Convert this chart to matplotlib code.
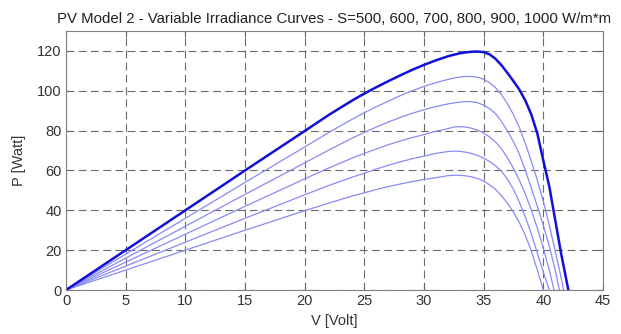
# Curvas P-V de un modulo FV para distintas irradiancias
import matplotlib.pyplot as plt

# datos (V en voltios, P en vatios)
v_base = [0, 5, 10, 15, 20, 22, 24, 25, 26, 27, 28, 29, 30, 31, 32,
          32.5, 33, 33.5, 34, 34.5, 35, 35.5, 36, 36.5, 37,
          37.5, 38, 38.5, 39, 39.5, 40, 40.5, 41, 41.5, 42]

v_500 = v_base[:30] + [40]
p_500 = [0, 10, 20, 30, 39.8, 43.6, 47.2, 48.8, 50.4, 51.9, 53.2, 54.4, 55.5, 56.4, 57.4,
         57.6, 57.6, 57.3, 56.8, 55.9, 54.7, 52.8, 50.5, 47.3, 43.5,
         39, 33.8, 27.3, 19.5, 10, 0]

v_600 = v_base[:31] + [40.5]
p_600 = [0, 12, 24, 36, 47.8, 52.4, 56.7, 58.6, 60.7, 62.6, 64.3, 65.9, 67.2, 68.6, 69.5,
         69.7, 69.6, 69.2, 68.5, 67.5, 66.2, 64.5, 62.3, 59.6, 55.5,
         50.5, 44, 36.5, 28, 18.5, 9, 0]

v_700 = v_base[:32] + [40.9]
p_700 = [0, 14, 28, 42, 55.8, 61.2, 66.3, 68.6, 70.8, 72.9, 74.8, 76.5, 78, 79.7, 81,
         81.8, 82, 81.8, 81.2, 80.2, 78.8, 76.8, 74.3, 70.8, 66.3,
         61, 55, 48, 40, 31, 21, 10, 0]

v_800 = v_base[:33] + [41.35]
p_800 = [0, 16, 32, 48, 63.8, 70.2, 76.3, 79.1, 81.8, 84.3, 86.6, 88.7, 90.5, 92.1, 93.4,
         93.9, 94.3, 94.6, 94.5, 94, 92.8, 91, 88.5, 84.5, 79.8,
         74.5, 68, 60, 51, 42, 32.5, 22, 10, 0]

v_900 = v_base[:34] + [41.7]
p_900 = [0, 18, 36, 54, 71.8, 79, 85.8, 89, 92, 94.8, 97.5, 100, 102.2, 104.1, 105.7,
         106.4, 106.9, 107.2, 107.2, 106.8, 105.8, 104, 101.5, 98, 93.5,
         88, 81.5, 73.5, 64.5, 55, 44.5, 32.5, 19.5, 6, 0]

v_1000 = v_base + [42.1]
p_1000 = [0, 20, 40, 60, 79.8, 87.8, 95.2, 98.6, 101.8, 104.8, 107.7, 110.5, 113, 115.3, 117.3,
          118.1, 118.8, 119.3, 119.6, 119.7, 119.4, 118.3, 116, 112.8, 108.9,
          104.8, 100.5, 95, 88, 78.5, 65, 52, 35, 18, 3, 0]

x_ticks = [0, 5, 10, 15, 20, 25, 30, 35, 40, 45]
y_ticks = [0, 20, 40, 60, 80, 100, 120]

plt.rcParams['font.family'] = ['Liberation Sans', 'DejaVu Sans']

fig = plt.figure(figsize=(6.21, 3.34), dpi=100)
ax = fig.add_axes([0.1063, 0.1317, 0.8647, 0.7754])

# curvas de menor irradiancia (azul claro)
for v, p in [(v_500, p_500), (v_600, p_600), (v_700, p_700), (v_800, p_800), (v_900, p_900)]:
    ax.plot(v, p, color='#8a8af5', linewidth=0.9)
# curva de 1000 W/m2 (azul fuerte)
ax.plot(v_1000, p_1000, color='#1010d8', linewidth=1.8)

ax.set_xlim(0, 45)
ax.set_ylim(0, 130)
ax.set_xticks(x_ticks)
ax.set_yticks(y_ticks)
ax.grid(True, color='0.42', linestyle=(0, (7, 4)), linewidth=0.8)
ax.tick_params(direction='in', top=True, right=True, labelsize=10.5,
               colors='0.4', labelcolor='#333333', length=4, pad=3)
for s in ax.spines.values():
    s.set_color('0.5')

ax.set_xlabel('V [Volt]', fontsize=10.5, color='#333333', labelpad=4)
ax.set_ylabel('P [Watt]', fontsize=10.5, color='#333333', labelpad=8)
ax.set_title('PV Model 2 - Variable Irradiance Curves - S=500, 600, 700, 800, 900, 1000 W/m*m',
             fontsize=10.8, color='#222222', pad=6)

fig.savefig('out.png', dpi=100)
